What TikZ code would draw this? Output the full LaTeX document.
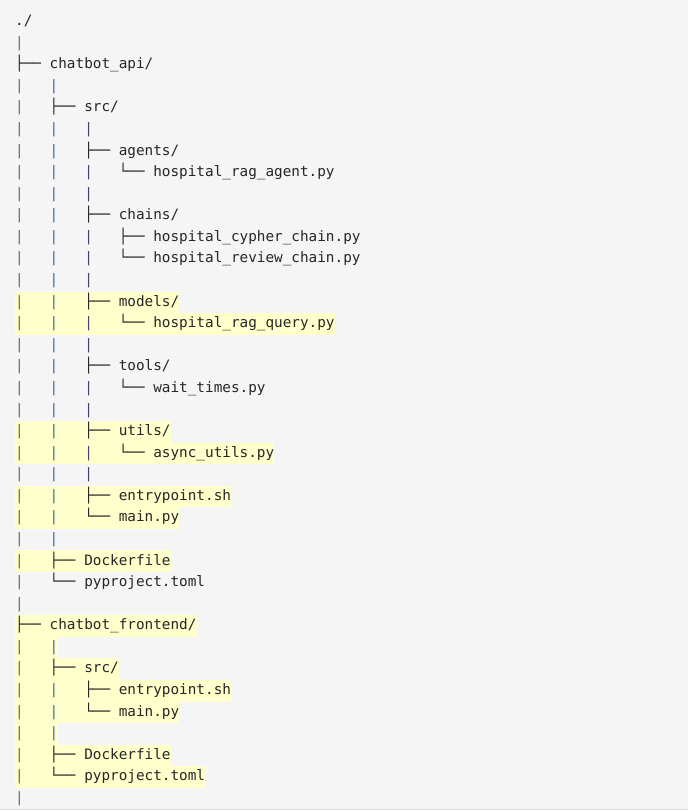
\documentclass[tikz,border=0pt]{standalone}
\usepackage{fontspec}
\newfontfamily\treemono{DejaVu Sans Mono}
\definecolor{bgc}{HTML}{F5F5F5}
\definecolor{hlc}{HTML}{FFFFCC}
\definecolor{txt}{HTML}{262626}
\definecolor{barA}{HTML}{6F6A55}
\definecolor{barB}{HTML}{3F6A9A}
\definecolor{barC}{HTML}{4E3F72}
\definecolor{edgec}{HTML}{DDDDDD}
\newcommand\pA{\textcolor{barA}{|}}
\newcommand\pB{\textcolor{barB}{|}}
\newcommand\pC{\textcolor{barC}{|}}
\newcommand\rowy[1]{784.4-21.58*(#1-1)}
\tikzset{
  row/.style={anchor=base west, inner sep=0pt, text height=14.6pt, text depth=6.98pt,
    font=\treemono\fontsize{14.34pt}{21.58pt}\selectfont, text=txt},
  hl/.style={fill=hlc},
}
\begin{document}
\begin{tikzpicture}[x=1pt,y=1pt]
\fill[bgc] (0,0) rectangle (688,810);
\useasboundingbox (0,0) rectangle (688,810);
\draw[edgec, line width=1.2pt] (0,0.6) -- (688,0.6);

\node[row] (r1) at (15,{\rowy{1}}) {./};
\node[row] (r2) at (15,{\rowy{2}}) {\pA};
\node[row] (r3) at (15,{\rowy{3}}) {├──\ chatbot\_api/};
\node[row] (r4) at (15,{\rowy{4}}) {\pA\ \ \ \pB};
\node[row] (r5) at (15,{\rowy{5}}) {\pA\ \ \ ├──\ src/};
\node[row] (r6) at (15,{\rowy{6}}) {\pA\ \ \ \pB\ \ \ \pC};
\node[row] (r7) at (15,{\rowy{7}}) {\pA\ \ \ \pB\ \ \ ├──\ agents/};
\node[row] (r8) at (15,{\rowy{8}}) {\pA\ \ \ \pB\ \ \ \pC\ \ \ └──\ hospital\_rag\_agent.py};
\node[row] (r9) at (15,{\rowy{9}}) {\pA\ \ \ \pB\ \ \ \pC};
\node[row] (r10) at (15,{\rowy{10}}) {\pA\ \ \ \pB\ \ \ ├──\ chains/};
\node[row] (r11) at (15,{\rowy{11}}) {\pA\ \ \ \pB\ \ \ \pC\ \ \ ├──\ hospital\_cypher\_chain.py};
\node[row] (r12) at (15,{\rowy{12}}) {\pA\ \ \ \pB\ \ \ \pC\ \ \ └──\ hospital\_review\_chain.py};
\node[row] (r13) at (15,{\rowy{13}}) {\pA\ \ \ \pB\ \ \ \pC};
\node[row,hl] (r14) at (15,{\rowy{14}}) {\pA\ \ \ \pB\ \ \ ├──\ models/};
\node[row,hl] (r15) at (15,{\rowy{15}}) {\pA\ \ \ \pB\ \ \ \pC\ \ \ └──\ hospital\_rag\_query.py};
\node[row] (r16) at (15,{\rowy{16}}) {\pA\ \ \ \pB\ \ \ \pC};
\node[row] (r17) at (15,{\rowy{17}}) {\pA\ \ \ \pB\ \ \ ├──\ tools/};
\node[row] (r18) at (15,{\rowy{18}}) {\pA\ \ \ \pB\ \ \ \pC\ \ \ └──\ wait\_times.py};
\node[row] (r19) at (15,{\rowy{19}}) {\pA\ \ \ \pB\ \ \ \pC};
\node[row,hl] (r20) at (15,{\rowy{20}}) {\pA\ \ \ \pB\ \ \ ├──\ utils/};
\node[row,hl] (r21) at (15,{\rowy{21}}) {\pA\ \ \ \pB\ \ \ \pC\ \ \ └──\ async\_utils.py};
\node[row] (r22) at (15,{\rowy{22}}) {\pA\ \ \ \pB\ \ \ \pC};
\node[row,hl] (r23) at (15,{\rowy{23}}) {\pA\ \ \ \pB\ \ \ ├──\ entrypoint.sh};
\node[row,hl] (r24) at (15,{\rowy{24}}) {\pA\ \ \ \pB\ \ \ └──\ main.py};
\node[row] (r25) at (15,{\rowy{25}}) {\pA\ \ \ \pB};
\node[row,hl] (r26) at (15,{\rowy{26}}) {\pA\ \ \ ├──\ Dockerfile};
\node[row] (r27) at (15,{\rowy{27}}) {\pA\ \ \ └──\ pyproject.toml};
\node[row] (r28) at (15,{\rowy{28}}) {\pA};
\node[row,hl] (r29) at (15,{\rowy{29}}) {├──\ chatbot\_frontend/};
\node[row,hl] (r30) at (15,{\rowy{30}}) {\pA\ \ \ \pB};
\node[row,hl] (r31) at (15,{\rowy{31}}) {\pA\ \ \ ├──\ src/};
\node[row,hl] (r32) at (15,{\rowy{32}}) {\pA\ \ \ \pB\ \ \ ├──\ entrypoint.sh};
\node[row,hl] (r33) at (15,{\rowy{33}}) {\pA\ \ \ \pB\ \ \ └──\ main.py};
\node[row,hl] (r34) at (15,{\rowy{34}}) {\pA\ \ \ \pB};
\node[row,hl] (r35) at (15,{\rowy{35}}) {\pA\ \ \ ├──\ Dockerfile};
\node[row,hl] (r36) at (15,{\rowy{36}}) {\pA\ \ \ └──\ pyproject.toml};
\node[row] (r37) at (15,{\rowy{37}}) {\pA};
\end{tikzpicture}
\end{document}
